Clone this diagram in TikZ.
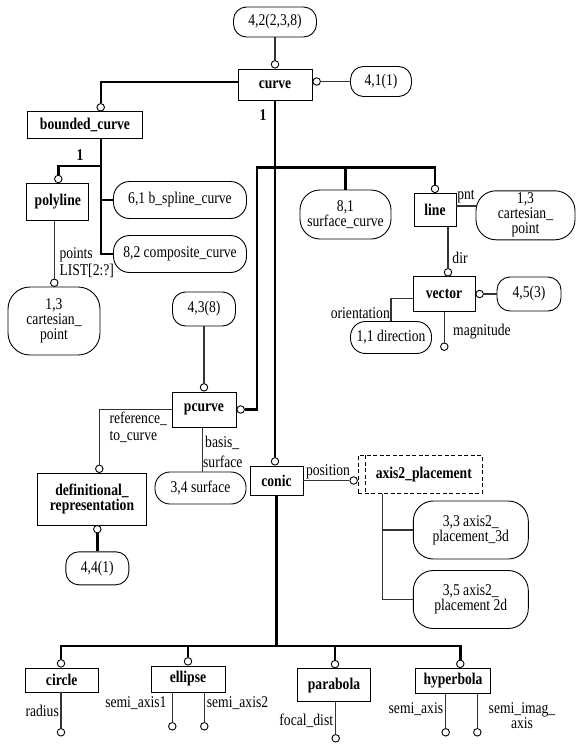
\documentclass[tikz,border=0pt]{standalone}
\usepackage{fontspec}
\setmainfont[FakeStretch=0.83]{Liberation Serif}
\begin{document}
\begin{tikzpicture}[x=1pt,y=-1pt,
  every node/.style={font=\fontsize{16.4}{15}\selectfont},
  ent/.style={draw, line width=0.9pt, font=\fontsize{16.4}{15}\selectfont\bfseries, align=center, inner sep=1pt},
  ref/.style={draw, line width=0.9pt, rounded corners=#1, align=center, inner sep=1pt},
  ref/.default=13pt,
  oc/.style={circle, draw, fill=white, inner sep=0pt, minimum size=7.5pt, line width=0.9pt},
  thk/.style={line width=2.4pt},
  thn/.style={line width=1.1pt, black!80},
  lbl/.style={inner sep=0pt, align=center},
  bl/.style={inner sep=0pt, font=\fontsize{16.4}{15}\selectfont\bfseries},
  dsh/.style={line width=0.9pt, dash pattern=on 4pt off 2.5pt}
]
\useasboundingbox (0,0) rectangle (577,744);

% ---- top: curve
\node[ref, minimum width=83pt, minimum height=30pt] (n422) at (275,22) {4,2(2,3,8)};
\node[ent, minimum width=74pt, minimum height=31pt] (curve) at (275,84.5) {curve};
\node[ref, minimum width=61pt, minimum height=30pt] (n411) at (381,81.5) {4,1(1)};
\node[oc, anchor=west] (ocv) at (curve.east |- n411) {};
\node[oc, anchor=south] (ocn) at (curve.north) {};
\draw[thn] (n422) -- (ocn);
\draw[thn] (ocv) -- (n411);
\node[bl] (one1) at (263,115) {1};

% ---- bounded_curve branch
\node[ent, minimum width=115pt, minimum height=27pt] (bc) at (85,125) {bounded\_curve};
\node[oc, anchor=south] (obc) at (100.7,111.5) {};
\draw[thk] (curve.west |- 0,81.7) -| (obc);
\node[ent, minimum width=62pt, minimum height=37pt] (pl) at (57.8,201.7) {polyline};
\node[oc, anchor=south] (opl) at (58.3,183.2) {};
\node[ref=16pt, minimum width=133pt, minimum height=37pt] (n61) at (180,200) {6,1 b\_spline\_curve};
\node[ref=16pt, minimum width=133pt, minimum height=37pt] (n82) at (180,254) {8,2 composite\_curve};
\coordinate (bt) at (100.7,254);
\draw[thk] (bc.south -| bt) -- (bt) -- (n82.west);
\draw[thk] (bt |- n61.west) -- (n61.west);
\draw[thk] (bt |- 0,165.7) -| (opl);
\node[bl] (one2) at (80,155) {1};

\node[ref=22pt, minimum width=92pt, minimum height=68pt] (cpL) at (54,321) {1,3\\cartesian\_\\point};
\node[oc, anchor=south] (ocpL) at (54.3,287) {};
\draw[thn] (pl.south -| ocpL) -- (ocpL);
\node[lbl, anchor=west] (lpts) at (59.3,254.5) {points};
\node[lbl, anchor=west] (llist) at (59.3,270.5) {LIST[2:?]};

% ---- right branch
\node[ref=20pt, minimum width=91pt, minimum height=49pt] (n81) at (345.5,214.5) {8,1\\surface\_curve};
\node[ent, minimum width=42pt, minimum height=33pt] (line) at (435,210) {line};
\node[oc, anchor=south] (oln) at (line.north) {};
\node[ref=20pt, minimum width=99pt, minimum height=49pt] (cpR) at (525.5,215.3) {1,3\\cartesian\_\\point};
\draw[thn] (line.east |- 0,206) -- (cpR.west |- 0,206);
\node[lbl] (lpnt) at (466,197) {pnt};

% ---- pcurve
\node[ent, minimum width=64pt, minimum height=35pt] (pc) at (204,409.5) {pcurve};
\node[oc, anchor=west] (ope) at (pc.east) {};
\node[oc, anchor=south] (opn) at (pc.north) {};
\node[ref, minimum width=63pt, minimum height=34pt] (n438) at (204,309) {4,3(8)};
\draw[thn] (n438) -- (opn);

% ---- conic
\node[ent, minimum width=53pt, minimum height=29pt] (con) at (276.5,480.5) {conic};
\node[oc, anchor=south] (ocon) at (con.north -| curve) {};

\coordinate (hl) at (256.7,167.5);
\draw[thk] (ope) -| (hl) -| (oln);
\draw[thk] (n81.north |- hl) -- (n81.north);
\draw[thk] (curve.south) -- (ocon);

% ---- vector
\node[ent, minimum width=62pt, minimum height=35pt] (vec) at (444,294) {vector};
\node[oc, anchor=south] (ovn) at (448,276.5) {};
\draw[thn] (line.south -| ovn) -- (ovn);
\node[lbl] (ldir) at (460,258.3) {dir};
\node[oc, anchor=west] (ove) at (vec.east) {};
\node[ref, minimum width=64pt, minimum height=34pt] (n453) at (529,294) {4,5(3)};
\draw[thn] (ove) -- (n453);
\node[ref=15pt, minimum width=81pt, minimum height=32pt] (ndir) at (391,337.5) {1,1 direction};
\draw[thn] (vec.west |- 0,298.3) -| (ndir.north);
\node[lbl, anchor=east] (lori) at (390,313.3) {orientation};
\node[oc] (omag) at (444.3,346.7) {};
\draw[thn] (vec.south -| omag) -- (omag);
\node[lbl, anchor=west] (lmag) at (453,331.7) {magnitude};

% ---- definitional_representation
\node[ent, minimum width=109pt, minimum height=52pt] (dr) at (92,499) {definitional\_\\representation};
\node[oc, anchor=south] (odr) at (99.3,473) {};
\draw[thn] (pc.west) -| (odr);
\node[lbl, anchor=west] (lref1) at (109.3,418.3) {reference\_};
\node[lbl, anchor=west] (lref2) at (109.3,436.7) {to\_curve};
\node[oc, anchor=north] (odrs) at (97.3,525) {};
\node[ref, minimum width=63pt, minimum height=33pt] (n441) at (97.3,568.3) {4,4(1)};
\draw[thk] (odrs) -- (n441);

% ---- 3,4 surface
\node[ref=15pt, minimum width=91pt, minimum height=32pt] (n34) at (200.5,488) {3,4 surface};
\draw[thn] (pc.south -| 202.3,0) -- (n34.north -| 202.3,0);
\node[lbl, anchor=west] (lbas1) at (205,443.3) {basis\_};
\node[lbl, anchor=west] (lbas2) at (203,461.7) {surface};

% ---- axis2_placement
\node[ent, dsh, minimum width=124pt, minimum height=37.6pt] (ax) at (420.3,474.5) {\hspace*{7pt}axis2\_placement};
\draw[dsh] ([xshift=7.7pt]ax.north west) -- ([xshift=7.7pt]ax.south west);
\node[oc, anchor=east] (oax) at (ax.west |- con) {};
\draw[thn] (con.east) -- (oax);
\node[lbl] (lpos) at (328,471.7) {position};
\node[ref=20pt, minimum width=115pt, minimum height=58pt] (n33) at (470.8,530) {3,3 axis2\_\\placement\_3d};
\node[ref=20pt, minimum width=115pt, minimum height=58pt] (n35) at (470.8,599.5) {3,5 axis2\_\\placement 2d};
\coordinate (at) at (382.3,599.5);
\draw[thn] (ax.south -| at) -- (at) -- (n35.west);
\draw[thn] (at |- n33.west) -- (n33.west);

% ---- conic subtypes
\node[ent, minimum width=73pt, minimum height=24pt] (cir) at (61.7,680) {circle};
\node[ent, minimum width=74pt, minimum height=26pt] (ell) at (188,679) {ellipse};
\node[ent, minimum width=73pt, minimum height=33pt] (par) at (334,685.3) {parabola};
\node[ent, minimum width=75pt, minimum height=25pt] (hyp) at (453,681) {hyperbola};
\node[oc, anchor=south] (ocir) at (cir.north -| 61,0) {};
\node[oc, anchor=south] (oell) at (ell.north) {};
\node[oc, anchor=south] (opar) at (par.north -| 335,0) {};
\node[oc, anchor=south] (ohyp) at (hyp.north -| 460.3,0) {};
\coordinate (cb) at (276.5,646);
\draw[thk] (con.south) -- (cb);
\draw[thk] (ocir) |- (cb) -| (ohyp);
\draw[thk] (oell) -- (oell |- cb);
\draw[thk] (opar) -- (opar |- cb);

% ---- attributes
\node[oc] (orad) at (61,732.3) {};
\draw[thn] (cir.south -| orad) -- (orad);
\node[lbl, anchor=east] (lrad) at (59,711) {radius};
\node[oc] (osa1) at (172.3,726.3) {};
\node[oc] (osa2) at (204.3,726.3) {};
\draw[thn] (ell.south -| osa1) -- (osa1);
\draw[thn] (ell.south -| osa2) -- (osa2);
\node[lbl, anchor=east] (lsa1) at (166.7,703.3) {semi\_axis1};
\node[lbl, anchor=west] (lsa2) at (206.7,703.3) {semi\_axis2};
\node[oc] (ofoc) at (335.7,738.3) {};
\draw[thn] (par.south -| ofoc) -- (ofoc);
\node[lbl, anchor=east] (lfoc) at (333.3,720.7) {focal\_dist};
\node[oc] (osax) at (445.7,732.3) {};
\node[oc] (osim) at (477.3,732.3) {};
\draw[thn] (hyp.south -| osax) -- (osax);
\draw[thn] (hyp.south -| osim) -- (osim);
\node[lbl, anchor=east] (lsax) at (443.3,709) {semi\_axis};
\node[lbl] (lsim) at (522,716) {semi\_imag\_\\axis};
\end{tikzpicture}
\end{document}
